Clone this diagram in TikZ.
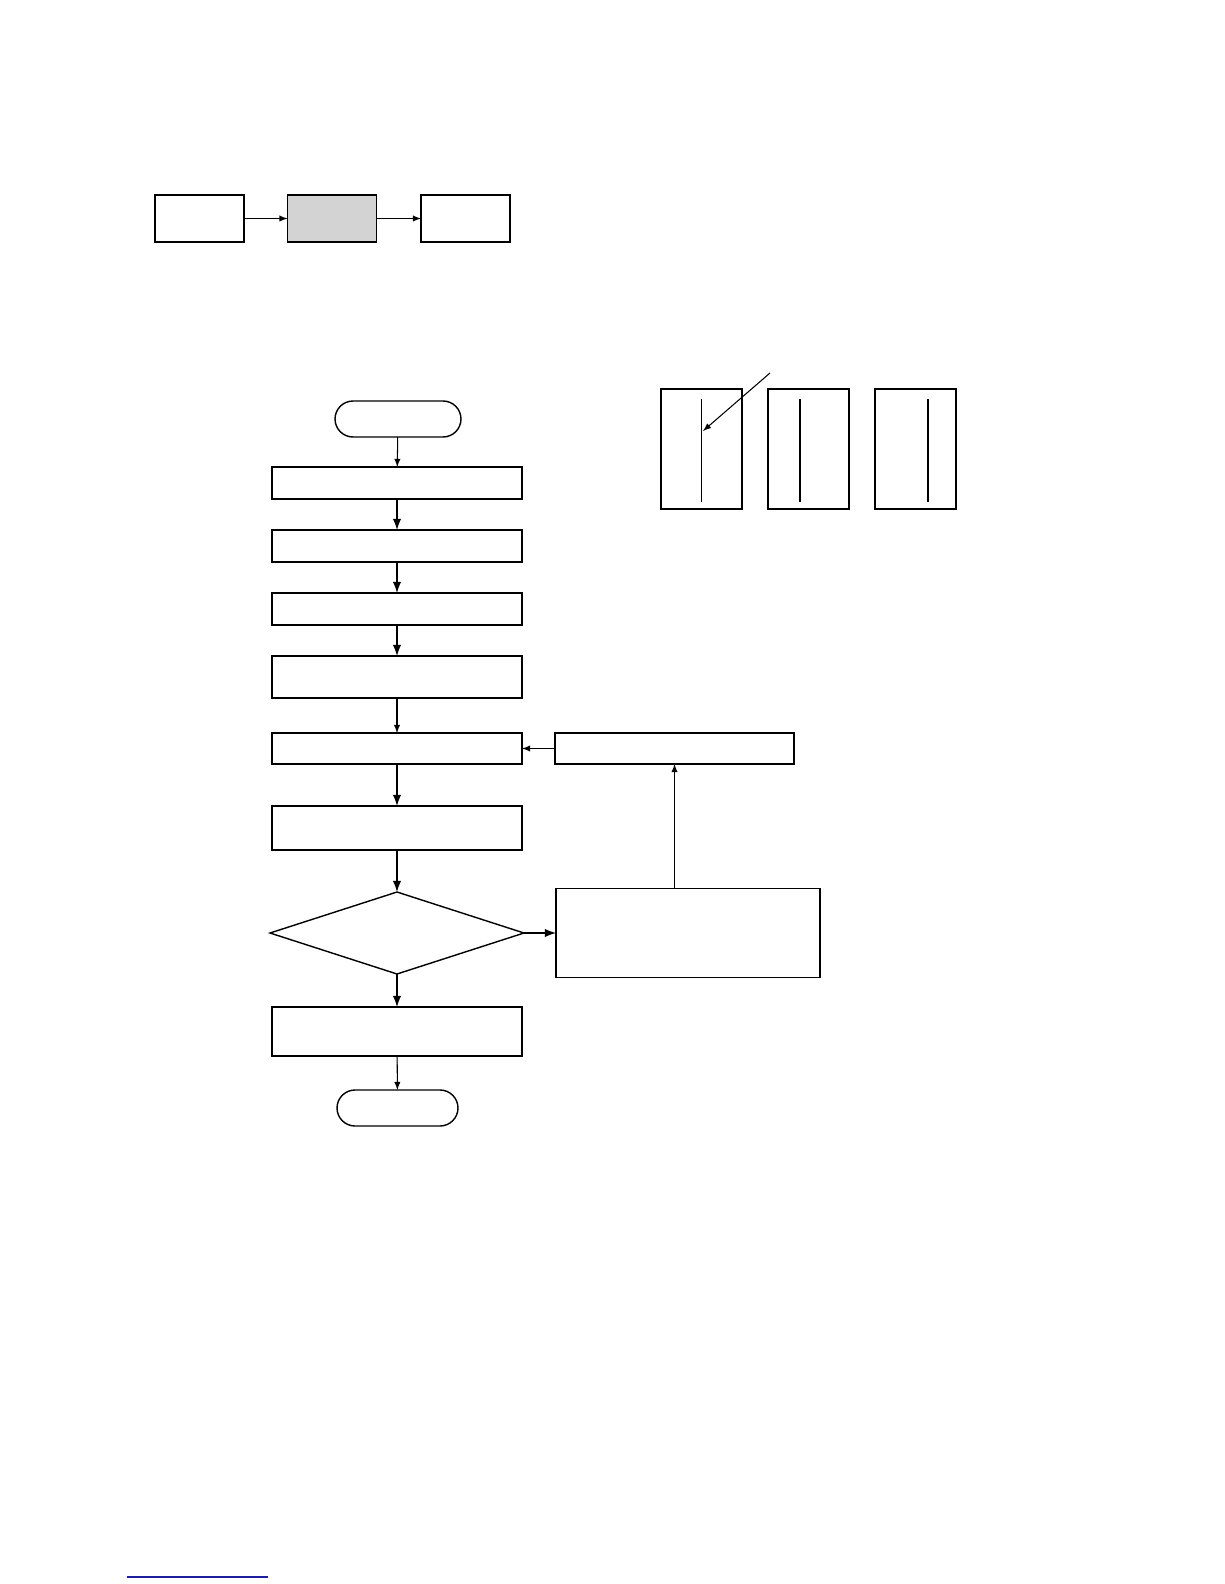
\documentclass[tikz,border=0pt]{standalone}
\usetikzlibrary{shapes.geometric,calc}

\begin{document}
\begin{tikzpicture}[x=0.02cm, y=-0.02cm, >=latex,
    process/.style ={rectangle, draw, line width=0.8pt, inner sep = 0pt, outer sep=0pt, minimum width=5cm},
    terminal/.style ={rectangle, draw, line width=0.8pt, rounded corners=0.36cm, inner sep = 0pt, outer sep=0pt, minimum height=0.72cm},
    decision/.style ={diamond, draw, line width=0.8pt, inner sep = 0pt, outer sep=0pt, minimum width=5.08cm, minimum height=1.64cm},
    stage/.style ={rectangle, draw, line width=0.8pt, inner sep = 0pt, outer sep=0pt, minimum width=1.78cm, minimum height=0.94cm},
    panel/.style ={rectangle, draw, line width=0.8pt, inner sep = 0pt, outer sep=0pt, minimum width=1.62cm, minimum height=2.4cm},
    flow/.style ={->, line width=0.6pt},
    heavyflow/.style ={->, line width=1.2pt}]
   \useasboundingbox (0,0) rectangle (1224,1584);

   % top row
   \node[stage] (S1) at (199.5,218.5) {};
   \node[stage, fill={rgb,255:red,211;green,211;blue,211}] (S2) at (332,218.5) {};
   \node[stage] (S3) at (465.5,218.5) {};
   \draw[flow] (S1) to (S2);
   \draw[flow] (S2) to (S3);

   % panels
   \node[panel] (P1) at (701.5,449) {};
   \node[panel] (P2) at (808.5,449) {};
   \node[panel] (P3) at (915.5,449) {};
   \draw[line width=0.6pt] ($(P1.north)+(0,10)$) to ($(P1.south)+(0,-7)$);
   \draw[line width=0.6pt] ($(P2.north)+(-8.5,10)$) to ($(P2.south)+(-8.5,-7)$);
   \draw[line width=0.6pt] ($(P3.north)+(12.5,10)$) to ($(P3.south)+(12.5,-7)$);
   \coordinate (tail) at (770,373);
   \coordinate (mark) at (703,431);
   \draw[flow] (tail) to (mark);

   % flow chart
   \node[terminal, minimum width=2.52cm] (start) at (398,419) {};
   \node[process, minimum height=0.64cm] (B1) at (397,483) {};
   \node[process, minimum height=0.64cm] (B2) at (397,546) {};
   \node[process, minimum height=0.64cm] (B3) at (397,609) {};
   \node[process, minimum height=0.84cm] (B4) at (397,677) {};
   \node[process, minimum height=0.62cm] (B5) at (397,748.5) {};
   \node[process, minimum height=0.88cm] (B6) at (397,828) {};
   \node[decision] (D) at (397,933) {};
   \node[process, minimum height=0.98cm] (B7) at (397,1031.5) {};
   \node[terminal, minimum width=2.42cm] (stop) at (397.5,1108) {};
   \node[process, minimum width=4.78cm, minimum height=0.62cm] (R1) at (674.5,748.5) {};
   \node[process, minimum width=5.28cm, minimum height=1.78cm] (R2) at (688,933) {};

   \draw[flow] (start) to (B1);
   \draw[heavyflow] (B1) to (B2);
   \draw[heavyflow] (B2) to (B3);
   \draw[heavyflow] (B3) to (B4);
   \draw[flow] (B4) to (B5);
   \draw[heavyflow] (B5) to (B6);
   \draw[heavyflow] (B6) to (D);
   \draw[heavyflow] (D) to (B7);
   \draw[flow] (B7) to (stop);
   \draw[heavyflow] (D.east) to (R2.west);
   \draw[flow] (R2.north -| R1.south) to (R1.south);
   \draw[flow] (R1.west) to (B5.east);

   % link underline
   \coordinate (ulA) at (127,1577);
   \coordinate (ulB) at (268,1577);
   \draw[line width=0.8pt, color={rgb,255:red,30;green,30;blue,160}] (ulA) to (ulB);
\end{tikzpicture}
\end{document}
